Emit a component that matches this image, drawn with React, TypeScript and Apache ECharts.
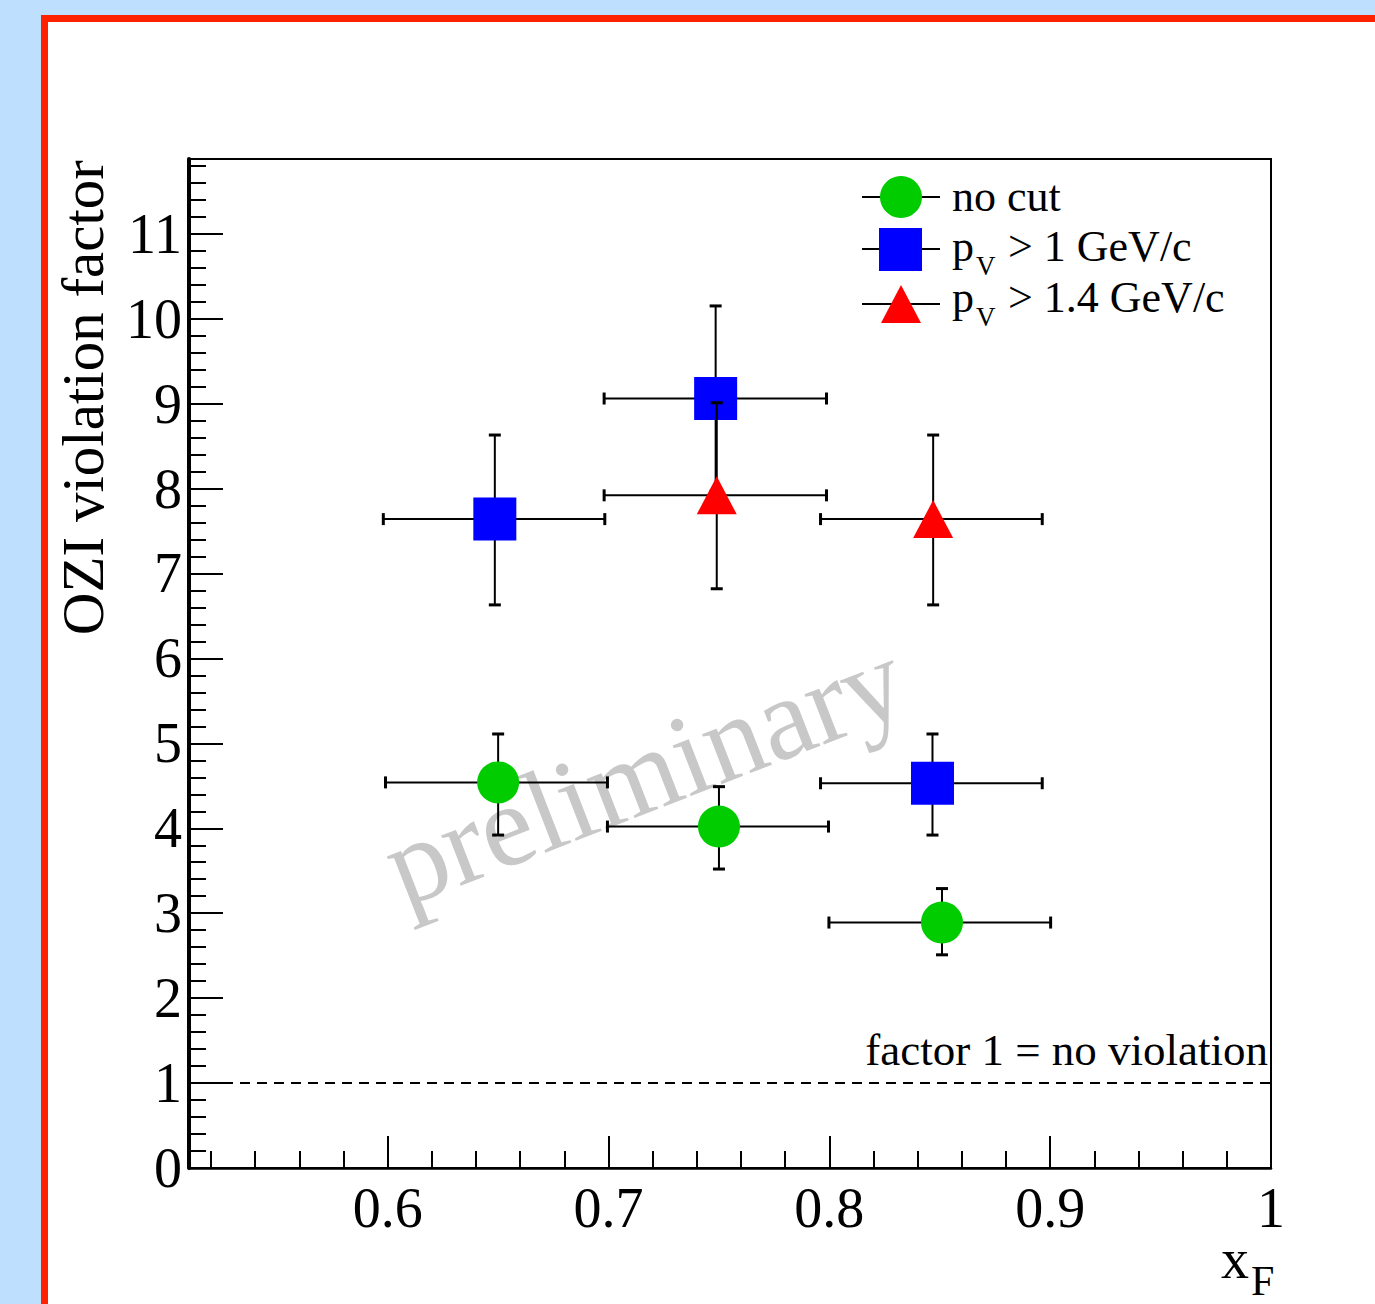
import React, { useEffect, useRef } from "react";
import * as echarts from "echarts";

const FONT = "Liberation Serif";

// ---- data ----
const noCutX = [0.65, 0.75, 0.851];
const noCutXLo = [0.599, 0.6995, 0.7998];
const noCutXHi = [0.6995, 0.7996, 0.9002];
const noCutY = [4.54, 4.02, 2.89];
const noCutYLo = [3.92, 3.52, 2.51];
const noCutYHi = [5.11, 4.49, 3.29];

const pv1X = [0.6485, 0.7485, 0.8467];
const pv1XLo = [0.598, 0.698, 0.796];
const pv1XHi = [0.6983, 0.7987, 0.8964];
const pv1Y = [7.64, 9.06, 4.53];
const pv1YLo = [6.63, 7.97, 3.92];
const pv1YHi = [8.63, 10.15, 5.11];

const pv14X = [0.749, 0.847];
const pv14XLo = [0.698, 0.796];
const pv14XHi = [0.7987, 0.8964];
const pv14Y = [7.92, 7.64];
const pv14YLo = [6.82, 6.63];
const pv14YHi = [9.01, 8.63];

const xMajorTicks = [0.6, 0.7, 0.8, 0.9, 1.0];
const xTickLabels = ["0.6", "0.7", "0.8", "0.9", "1"];
const yMajorTicks = [0, 1, 2, 3, 4, 5, 6, 7, 8, 9, 10, 11];
const yTickLabels = ["0", "1", "2", "3", "4", "5", "6", "7", "8", "9", "10", "11"];

const X_MIN = 0.51;
const X_MAX = 1.0;
const Y_MIN = 0;
const Y_MAX = 11.88;
const NO_VIOLATION = 1;

function minorTicks(start: number, end: number, step: number, majorStep: number) {
  const out: number[] = [];
  const n = Math.round((end - start) / step);
  for (let i = 0; i <= n; i++) {
    const v = Math.round((start + i * step) * 1000) / 1000;
    const r = v / majorStep;
    if (Math.abs(r - Math.round(r)) > 1e-6) out.push(v);
  }
  return out;
}
const xMinorTicks = minorTicks(0.52, 0.98, 0.02, 0.1);
const yMinorTicks = minorTicks(0.2, 11.8, 0.2, 1);

function rows(x: number[], y: number[], xlo: number[], xhi: number[], ylo: number[], yhi: number[]) {
  return x.map((v, i) => [v, y[i], xlo[i], xhi[i], ylo[i], yhi[i]]);
}

const errRender = (params: any, api: any) => {
  const x = api.value(0), y = api.value(1);
  const c = api.coord([x, y]);
  const l = api.coord([api.value(2), y]);
  const r = api.coord([api.value(3), y]);
  const b = api.coord([x, api.value(4)]);
  const t = api.coord([x, api.value(5)]);
  const s = { stroke: "#000", lineWidth: 2 };
  const cs = { stroke: "#000", lineWidth: 3 };
  const cap = 6;
  return {
    type: "group",
    children: [
      { type: "line", shape: { x1: l[0], y1: c[1], x2: r[0], y2: c[1] }, style: s },
      { type: "line", shape: { x1: c[0], y1: t[1], x2: c[0], y2: b[1] }, style: s },
      { type: "line", shape: { x1: l[0], y1: c[1] - cap, x2: l[0], y2: c[1] + cap }, style: cs },
      { type: "line", shape: { x1: r[0], y1: c[1] - cap, x2: r[0], y2: c[1] + cap }, style: cs },
      { type: "line", shape: { x1: c[0] - cap, y1: t[1], x2: c[0] + cap, y2: t[1] }, style: cs },
      { type: "line", shape: { x1: c[0] - cap, y1: b[1], x2: c[0] + cap, y2: b[1] }, style: cs },
    ],
  };
};

export default function App() {
  const ref = useRef<HTMLDivElement>(null);
  useEffect(() => {
    if (!ref.current) return;
    const chart = echarts.init(ref.current, undefined, { renderer: "svg" });
    const txt = (text: string, x: number, y: number, size: number, extra: any = {}) => ({
      type: "text",
      x,
      y,
      z: 50,
      style: { text, fontFamily: FONT, fontSize: size, fill: "#000", align: "left", verticalAlign: "middle", ...extra },
    });
    const option: any = {
      animation: false,
      backgroundColor: "transparent",
      grid: {
        left: 189,
        top: 159,
        width: 1082,
        height: 1009,
        show: true,
        borderColor: "#000",
        borderWidth: 2,
        backgroundColor: "transparent",
        outerBoundsMode: "none",
      },
      xAxis: [
        {
          type: "value",
          min: X_MIN,
          max: X_MAX,
          position: "bottom",
          axisLine: { show: true, lineStyle: { color: "#000", width: 2.5 } },
          axisTick: { show: true, inside: true, length: 32, customValues: xMajorTicks, lineStyle: { color: "#000", width: 2 } },
          axisLabel: {
            show: true,
            customValues: xMajorTicks,
            formatter: (v: number) => xTickLabels[xMajorTicks.findIndex((m) => Math.abs(m - v) < 1e-6)] ?? "",
            fontFamily: FONT,
            fontSize: 56,
            color: "#000",
            margin: 12,
          },
          splitLine: { show: false },
        },
        {
          type: "value",
          min: X_MIN,
          max: X_MAX,
          position: "bottom",
          axisLine: { show: false },
          axisTick: { show: true, inside: true, length: 17, customValues: xMinorTicks, lineStyle: { color: "#000", width: 2 } },
          axisLabel: { show: false },
          splitLine: { show: false },
        },
      ],
      yAxis: [
        {
          type: "value",
          min: Y_MIN,
          max: Y_MAX,
          position: "left",
          axisLine: { show: true, lineStyle: { color: "#000", width: 4 } },
          axisTick: { show: true, inside: true, length: 34, customValues: yMajorTicks, lineStyle: { color: "#000", width: 2 } },
          axisLabel: {
            show: true,
            customValues: yMajorTicks,
            formatter: (v: number) => yTickLabels[yMajorTicks.findIndex((m) => Math.abs(m - v) < 1e-6)] ?? "",
            fontFamily: FONT,
            fontSize: 56,
            color: "#000",
            margin: 7,
          },
          splitLine: { show: false },
        },
        {
          type: "value",
          min: Y_MIN,
          max: Y_MAX,
          position: "left",
          axisLine: { show: false },
          axisTick: { show: true, inside: true, length: 17, customValues: yMinorTicks, lineStyle: { color: "#000", width: 2 } },
          axisLabel: { show: false },
          splitLine: { show: false },
        },
      ],
      series: [
        {
          type: "custom",
          name: "noCutErr",
          renderItem: errRender,
          data: rows(noCutX, noCutY, noCutXLo, noCutXHi, noCutYLo, noCutYHi),
          encode: { x: 0, y: 1 },
          z: 3,
          silent: true,
        },
        {
          type: "scatter",
          name: "no cut",
          data: noCutX.map((x, i) => [x, noCutY[i]]),
          symbol: "circle",
          symbolSize: 42,
          itemStyle: { color: "#00cc00", opacity: 1 },
          z: 4,
          markLine: {
            silent: true,
            symbol: ["none", "none"],
            lineStyle: { type: [10, 7], color: "#000", width: 2 },
            label: {
              show: true,
              position: "insideEndTop",
              formatter: "factor 1 = no violation",
              fontFamily: FONT,
              fontSize: 45,
              color: "#000",
              distance: [3, 11],
            },
            data: [{ yAxis: NO_VIOLATION }],
          },
        },
        {
          type: "custom",
          name: "pv1Err",
          renderItem: errRender,
          data: rows(pv1X, pv1Y, pv1XLo, pv1XHi, pv1YLo, pv1YHi),
          encode: { x: 0, y: 1 },
          z: 5,
          silent: true,
        },
        {
          type: "scatter",
          name: "pV > 1 GeV/c",
          data: pv1X.map((x, i) => [x, pv1Y[i]]),
          symbol: "rect",
          symbolSize: 43,
          itemStyle: { color: "#0000ff", opacity: 1 },
          z: 6,
        },
        {
          type: "custom",
          name: "pv14Err",
          renderItem: errRender,
          data: rows(pv14X, pv14Y, pv14XLo, pv14XHi, pv14YLo, pv14YHi),
          encode: { x: 0, y: 1 },
          z: 7,
          silent: true,
        },
        {
          type: "scatter",
          name: "pV > 1.4 GeV/c",
          data: pv14X.map((x, i) => [x, pv14Y[i]]),
          symbol: "triangle",
          symbolSize: [40, 38],
          itemStyle: { color: "#ff0000", opacity: 1 },
          z: 8,
        },
      ],
      graphic: [
        {
          type: "rect",
          z: -100,
          shape: { x: 44.5, y: 18.5, width: 1400, height: 1400 },
          style: { fill: "#ffffff", stroke: "#ff2200", lineWidth: 7 },
        },
        {
          type: "text",
          x: 644,
          y: 772,
          rotation: 0.37,
          z: 1,
          style: {
            text: "preliminary",
            fontFamily: FONT,
            fontSize: 117,
            fill: "#c8c8c8",
            align: "center",
            verticalAlign: "middle",
          },
        },
        // y axis title
        {
          type: "text",
          x: 83,
          y: 160,
          rotation: Math.PI / 2,
          z: 50,
          style: { text: "OZI violation factor", fontFamily: FONT, fontSize: 59, fill: "#000", align: "right", verticalAlign: "middle" },
        },
        // x axis title
        txt("x", 1221, 1259, 56),
        txt("F", 1251, 1281, 42),
        // legend
        { type: "line", z: 50, shape: { x1: 862, y1: 197, x2: 940, y2: 197 }, style: { stroke: "#000", lineWidth: 2 } },
        { type: "circle", z: 51, shape: { cx: 901, cy: 197, r: 21 }, style: { fill: "#00cc00" } },
        { type: "line", z: 50, shape: { x1: 862, y1: 249, x2: 940, y2: 249 }, style: { stroke: "#000", lineWidth: 2 } },
        { type: "rect", z: 51, shape: { x: 879, y: 228, width: 43, height: 43 }, style: { fill: "#0000ff" } },
        { type: "line", z: 50, shape: { x1: 862, y1: 304, x2: 940, y2: 304 }, style: { stroke: "#000", lineWidth: 2 } },
        {
          type: "polygon",
          z: 51,
          shape: { points: [[881, 323], [921, 323], [901, 285]] },
          style: { fill: "#ff0000" },
        },
        txt("no cut", 952, 196, 44),
        txt("p", 952, 246, 44),
        txt("V", 976, 266, 27),
        txt("> 1 GeV/c", 1008, 246, 44),
        txt("p", 952, 297, 44),
        txt("V", 976, 317, 27),
        txt("> 1.4 GeV/c", 1008, 297, 44),
      ],
    };
    chart.setOption(option);
    return () => chart.dispose();
  }, []);
  return (
    <div
      ref={ref}
      style={{ position: "absolute", left: 0, top: 0, width: 1375, height: 1304, background: "#bfdfff" }}
    />
  );
}
